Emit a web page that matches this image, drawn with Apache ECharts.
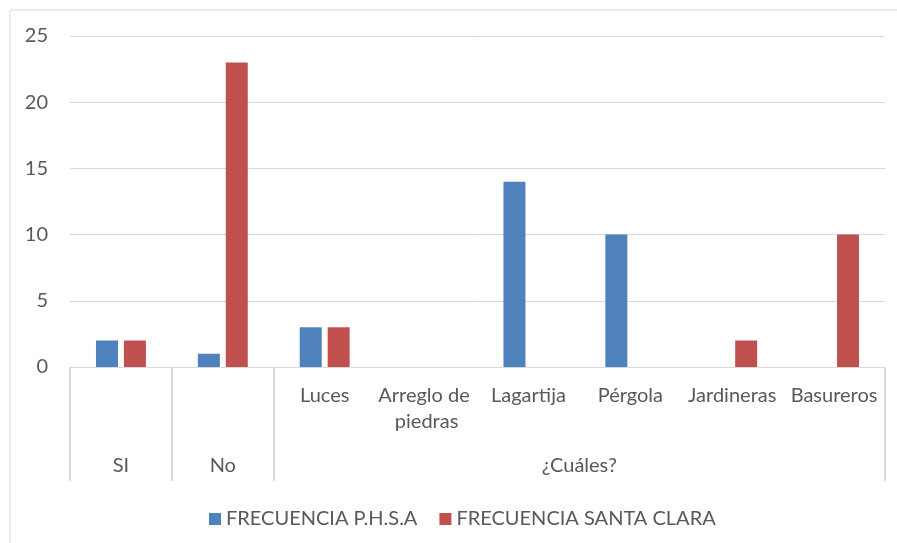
<!DOCTYPE html>
<html>
<head>
<meta charset="utf-8">
<script src="https://cdn.jsdelivr.net/npm/echarts@6/dist/echarts.min.js"></script>
<style>
  html, body { margin: 0; padding: 0; background: #fff; }
  #main { width: 897px; height: 543px; }
</style>
</head>
<body>
<div id="main"></div>
<script>
// datos
var categorias = ['SI', 'No', 'Luces', 'Arreglo de piedras', 'Lagartija', 'Pérgola', 'Jardineras', 'Basureros'];
var grupos = ['SI', 'No', '¿Cuáles?'];
var grupoLimites = [0, 1, 2, 8];      // bordes de cada grupo (en categorías)
var grupoCentros = [0.5, 1.5, 5];
var phsa = [2, 1, 3, 0, 14, 10, 0, 0];
var santaClara = [2, 23, 3, 0, 0, 0, 2, 10];
var yTicks = [0, 5, 10, 15, 20, 25];

var fuente = 'Lato, "Open Sans", sans-serif';
var gris = '#595959';
var linea = '#d9d9d9';
var tam = 20;

var chart = echarts.init(document.getElementById('main'));
var option = {
  animation: false,
  textStyle: { fontFamily: fuente },
  graphic: [{
    type: 'rect',
    shape: { x: 10, y: 10, width: 900, height: 560 },
    style: { fill: 'none', stroke: linea, lineWidth: 1 },
    silent: true
  }],
  grid: { left: 70, right: 12, top: 36, bottom: 176 },
  legend: {
    left: 204,
    top: 504,
    icon: 'rect',
    itemWidth: 12,
    itemHeight: 12,
    itemGap: 22,
    itemStyle: { borderWidth: 0 },
    textStyle: { fontSize: tam, color: gris, fontFamily: fuente }
  },
  xAxis: [
    {
      type: 'category',
      data: categorias,
      axisLine: { show: false },
      axisTick: { show: false },
      axisLabel: {
        interval: 0,
        color: gris,
        fontSize: tam,
        fontFamily: fuente,
        margin: 16,
        width: 104,
        overflow: 'break',
        lineHeight: 26,
        // las categorías de un solo elemento solo muestran el grupo
        formatter: function (v, i) { return i < 2 ? '' : v; }
      }
    },
    {
      type: 'value',
      min: 0,
      max: 8,
      position: 'bottom',
      offset: 0,
      splitLine: { show: false },
      axisLine: { show: true, lineStyle: { color: linea, width: 1 } },
      axisTick: {
        show: true,
        customValues: grupoLimites,
        length: 114,
        lineStyle: { color: linea, width: 2 }
      },
      axisLabel: {
        customValues: grupoCentros,
        color: gris,
        fontSize: tam,
        fontFamily: fuente,
        margin: 89,
        formatter: function (v) {
          var i = grupoCentros.indexOf(v);
          return i >= 0 ? grupos[i] : '';
        }
      }
    }
  ],
  yAxis: {
    type: 'value',
    min: yTicks[0],
    max: yTicks[yTicks.length - 1],
    interval: 5,
    axisLine: { show: false },
    axisTick: { show: false },
    axisLabel: { color: gris, fontSize: tam, fontFamily: fuente, margin: 22 },
    splitLine: { lineStyle: { color: linea, width: 1 } }
  },
  series: [
    {
      name: 'FRECUENCIA P.H.S.A',
      type: 'bar',
      xAxisIndex: 0,
      data: phsa,
      barWidth: 22,
      barGap: '27%',
      itemStyle: { color: '#4F81BD' }
    },
    {
      name: 'FRECUENCIA SANTA CLARA',
      type: 'bar',
      xAxisIndex: 0,
      data: santaClara,
      barWidth: 22,
      barGap: '27%',
      itemStyle: { color: '#C0504D' }
    }
  ]
};
chart.setOption(option);
</script>
</body>
</html>
